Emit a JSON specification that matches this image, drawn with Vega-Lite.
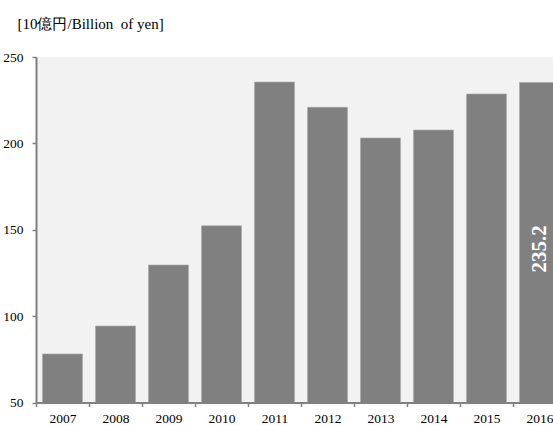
{
  "$schema": "https://vega.github.io/schema/vega-lite/v6.json",
  "autosize": {"type": "none"},
  "padding": {"left": 36, "top": 57, "right": 0, "bottom": 22},
  "width": 530,
  "height": 345.5,
  "background": "white",
  "config": {
    "view": {"fill": "#f2f2f2", "stroke": null},
    "font": "Liberation Serif"
  },
  "data": {
    "values": [
      {"year": "2007", "value": 78.1},
      {"year": "2008", "value": 94.3},
      {"year": "2009", "value": 129.6},
      {"year": "2010", "value": 152.3},
      {"year": "2011", "value": 235.5},
      {"year": "2012", "value": 220.9},
      {"year": "2013", "value": 203.1},
      {"year": "2014", "value": 207.7},
      {"year": "2015", "value": 228.6},
      {"year": "2016", "value": 235.2}
    ]
  },
  "layer": [
    {
      "mark": {"type": "bar", "color": "#808080", "clip": true, "width": {"band": 0.755}, "stroke": "#a8a8a8", "strokeWidth": 0.6},
      "encoding": {
        "x": {
          "field": "year", "type": "ordinal",
          "scale": {"paddingInner": 0, "paddingOuter": 0},
          "axis": {
            "title": null, "labelAngle": 0, "labelFont": "Liberation Serif", "labelFontSize": 13.5,
            "labelColor": "black", "labelPadding": 5, "tickBand": "extent",
            "domainColor": "#808080", "domainWidth": 2, "tickColor": "#808080", "tickWidth": 1.5, "tickSize": 4
          }
        },
        "y": {
          "field": "value", "type": "quantitative",
          "scale": {"domain": [50, 250], "nice": false, "zero": false},
          "axis": {
            "values": [50, 100, 150, 200, 250], "grid": false,
            "title": "[10億円/Billion\u00a0 of yen]", "titleAngle": 0, "titleAlign": "left", "titleBaseline": "alphabetic",
            "titleX": -19, "titleY": -29, "titleFont": "Liberation Serif", "titleFontSize": 15, "titleFontWeight": "normal", "titleColor": "black",
            "labelFont": "Liberation Serif", "labelFontSize": 13.5, "labelColor": "black", "labelPadding": 9,
            "domainColor": "#808080", "domainWidth": 2, "tickColor": "#808080", "tickWidth": 1.5, "tickSize": 4
          }
        }
      }
    },
    {
      "transform": [{"filter": "datum.year == '2016'"}],
      "mark": {"type": "text", "angle": 270, "align": "center", "baseline": "middle", "color": "white", "fontWeight": "bold", "fontSize": 21, "font": "Liberation Serif"},
      "encoding": {
        "x": {"field": "year", "type": "ordinal"},
        "y": {"datum": 139},
        "text": {"field": "value", "type": "quantitative", "format": ".1f"}
      }
    }
  ]
}
